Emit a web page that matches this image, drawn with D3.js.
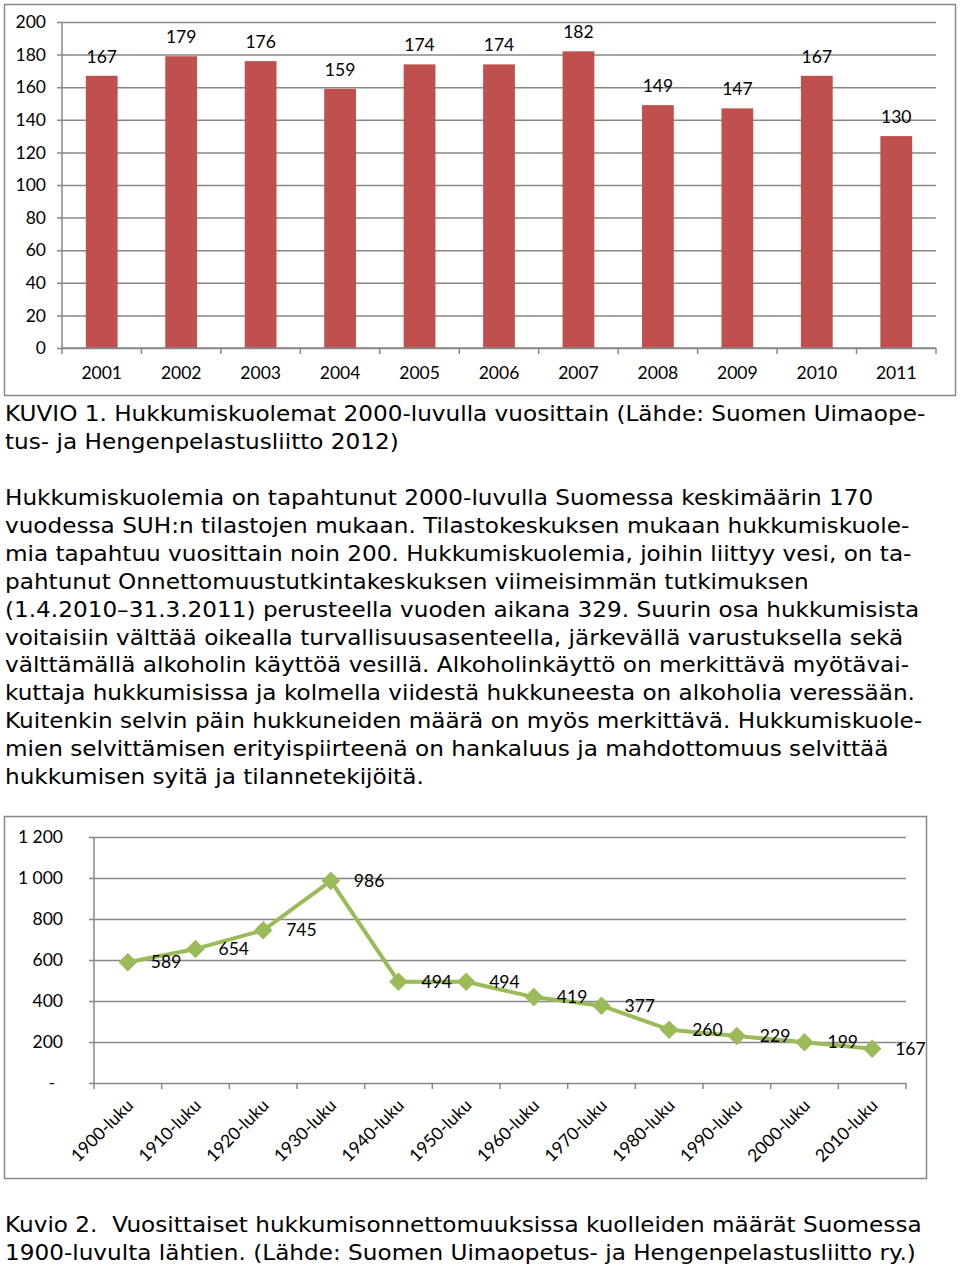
<!DOCTYPE html>
<html><head><meta charset="utf-8">
<script src="https://cdn.jsdelivr.net/npm/d3@7"></script>
<style>body{margin:0;background:#fff}svg{display:block}</style>
</head><body>
<svg id="c" width="960" height="1268"></svg>
<script>
const years = ["2001","2002","2003","2004","2005","2006","2007","2008","2009","2010","2011"];
const deaths = [167,179,176,159,174,174,182,149,147,167,130];
const yTicks1 = [0,20,40,60,80,100,120,140,160,180,200];

const decades = ["1900-luku","1910-luku","1920-luku","1930-luku","1940-luku","1950-luku","1960-luku","1970-luku","1980-luku","1990-luku","2000-luku","2010-luku"];
const decadeDeaths = [589,654,745,986,494,494,419,377,260,229,199,167];
const yTicks2 = [0,200,400,600,800,1000,1200];

const caption1 = ["KUVIO 1. Hukkumiskuolemat 2000-luvulla vuosittain (Lähde: Suomen Uimaope-",
  "tus- ja Hengenpelastusliitto 2012)"];
const paragraph = [
  "Hukkumiskuolemia on tapahtunut 2000-luvulla Suomessa keskimäärin 170",
  "vuodessa SUH:n tilastojen mukaan. Tilastokeskuksen mukaan hukkumiskuole-",
  "mia tapahtuu vuosittain noin 200. Hukkumiskuolemia, joihin liittyy vesi, on ta-",
  "pahtunut Onnettomuustutkintakeskuksen viimeisimmän tutkimuksen",
  "(1.4.2010–31.3.2011) perusteella vuoden aikana 329. Suurin osa hukkumisista",
  "voitaisiin välttää oikealla turvallisuusasenteella, järkevällä varustuksella sekä",
  "välttämällä alkoholin käyttöä vesillä. Alkoholinkäyttö on merkittävä myötävai-",
  "kuttaja hukkumisissa ja kolmella viidestä hukkuneesta on alkoholia veressään.",
  "Kuitenkin selvin päin hukkuneiden määrä on myös merkittävä. Hukkumiskuole-",
  "mien selvittämisen erityispiirteenä on hankaluus ja mahdottomuus selvittää",
  "hukkumisen syitä ja tilannetekijöitä."];
const caption2 = ["Kuvio 2.  Vuosittaiset hukkumisonnettomuuksissa kuolleiden määrät Suomessa",
  "1900-luvulta lähtien. (Lähde: Suomen Uimaopetus- ja Hengenpelastusliitto ry.)"];

const svg = d3.select("#c");
const GRID = "#878787";
const CHART_FONT = "Lato, 'Open Sans', sans-serif";
const TEXT_FONT = "'DejaVu Sans', Verdana, sans-serif";

// ---------- Chart 1: bars ----------
svg.append("rect").attr("x",4.5).attr("y",4.5).attr("width",951).attr("height",391)
  .attr("fill","#fff").attr("stroke",GRID).attr("stroke-width",1.5);

const x1 = d3.scaleBand().domain(years).range([62,936]).paddingInner(0.6).paddingOuter(0.3);
const y1 = d3.scaleLinear().domain([0,200]).range([348,22]);
const g1 = svg.append("g");

g1.append("g").attr("transform","translate(62,0)")
  .call(d3.axisLeft(y1).tickValues(yTicks1).tickSize(-874).tickPadding(16).tickSizeOuter(0))
  .call(g=>g.select(".domain").remove())
  .call(g=>g.selectAll(".tick line").attr("stroke",GRID).attr("stroke-width",1.5).attr("x1",-5))
  .call(g=>g.selectAll(".tick text").attr("font-family",CHART_FONT).attr("font-size",17.5).attr("fill","#000"));
g1.append("line").attr("x1",62).attr("x2",62).attr("y1",22).attr("y2",348).attr("stroke",GRID).attr("stroke-width",1.5);

g1.selectAll("rect.bar").data(deaths).join("rect").attr("class","bar")
  .attr("x",(d,i)=>x1(years[i])).attr("width",x1.bandwidth())
  .attr("y",d=>y1(d)).attr("height",d=>y1(0)-y1(d)).attr("fill","#C0504D");

// x-axis
const xa1 = g1.append("g");
xa1.append("line").attr("x1",62).attr("x2",936).attr("y1",348).attr("y2",348).attr("stroke",GRID).attr("stroke-width",1.5);
xa1.selectAll("line.t").data(d3.range(years.length+1)).join("line").attr("class","t")
  .attr("x1",i=>62+i*x1.step()).attr("x2",i=>62+i*x1.step())
  .attr("y1",348).attr("y2",354).attr("stroke",GRID).attr("stroke-width",1.5);
xa1.selectAll("text").data(years).join("text")
  .attr("x",d=>x1(d)+x1.bandwidth()/2).attr("y",379).attr("text-anchor","middle")
  .attr("font-family",CHART_FONT).attr("font-size",17.5).text(d=>d);

g1.selectAll("text.lbl").data(deaths).join("text").attr("class","lbl")
  .attr("x",(d,i)=>x1(years[i])+x1.bandwidth()/2).attr("y",d=>y1(d)-13)
  .attr("text-anchor","middle").attr("font-family",CHART_FONT).attr("font-size",17.5).text(d=>d);

// ---------- Text ----------
function textBlock(lines, y0, lh){
  svg.append("g").selectAll("text").data(lines).join("text")
    .attr("x",5).attr("y",(d,i)=>y0+i*lh)
    .style("white-space","pre")
    .attr("font-family",TEXT_FONT).attr("font-size",21.3).attr("fill","#000").text(d=>d)
    .each(function(){
      const w = this.getComputedTextLength();
      d3.select(this).attr("textLength", w*1.087).attr("lengthAdjust","spacingAndGlyphs");
    });
}
textBlock(caption1, 421, 28);
textBlock(paragraph, 505, 27.9);
textBlock(caption2, 1232, 28);

// ---------- Chart 2: line ----------
svg.append("rect").attr("x",4.5).attr("y",816.5).attr("width",922).attr("height",362)
  .attr("fill","#fff").attr("stroke",GRID).attr("stroke-width",1.5);

const x2 = d3.scaleBand().domain(decades).range([94,906]);
const y2 = d3.scaleLinear().domain([0,1200]).range([1083,837]);
const g2 = svg.append("g");
const fmt = v => v===0 ? "-" : d3.format(",")(v).replace(/,/g," ");

g2.append("g").attr("transform","translate(94,0)")
  .call(d3.axisLeft(y2).tickValues(yTicks2).tickSize(-812).tickPadding(31).tickFormat(fmt).tickSizeOuter(0))
  .call(g=>g.select(".domain").remove())
  .call(g=>g.selectAll(".tick line").attr("stroke",GRID).attr("stroke-width",1.5).attr("x1",-5))
  .call(g=>g.selectAll(".tick text").attr("font-family",CHART_FONT).attr("font-size",17.5).attr("fill","#000"))
  .call(g=>g.selectAll(".tick").filter(d=>d===0).select("text").attr("dx",-8));
g2.append("line").attr("x1",94).attr("x2",94).attr("y1",837).attr("y2",1083).attr("stroke",GRID).attr("stroke-width",1.5);

const xa2 = g2.append("g");
xa2.selectAll("line.t").data(d3.range(decades.length+1)).join("line").attr("class","t")
  .attr("x1",i=>94+i*x2.step()).attr("x2",i=>94+i*x2.step())
  .attr("y1",1083).attr("y2",1089).attr("stroke",GRID).attr("stroke-width",1.5);
xa2.selectAll("text").data(decades).join("text")
  .attr("transform",d=>`translate(${x2(d)+x2.bandwidth()/2-2},1098) rotate(-45)`)
  .attr("text-anchor","end").attr("dy","0.7em")
  .attr("font-family",CHART_FONT).attr("font-size",17.5).text(d=>d);

const cx = (d,i)=>x2(decades[i])+x2.bandwidth()/2;
g2.append("path").datum(decadeDeaths)
  .attr("d", d3.line().x(cx).y(d=>y2(d)))
  .attr("fill","none").attr("stroke","#9BBB59").attr("stroke-width",4).attr("stroke-linejoin","round");
g2.selectAll("path.m").data(decadeDeaths).join("path").attr("class","m")
  .attr("transform",(d,i)=>`translate(${cx(d,i)},${y2(d)})`)
  .attr("d", d3.symbol(d3.symbolDiamond2, 220)).attr("fill","#9BBB59");
g2.selectAll("text.lbl").data(decadeDeaths).join("text").attr("class","lbl")
  .attr("x",(d,i)=>cx(d,i)+23).attr("y",d=>y2(d)).attr("dy","0.35em")
  .attr("font-family",CHART_FONT).attr("font-size",17.5).text(d=>d);
</script>
</body></html>
